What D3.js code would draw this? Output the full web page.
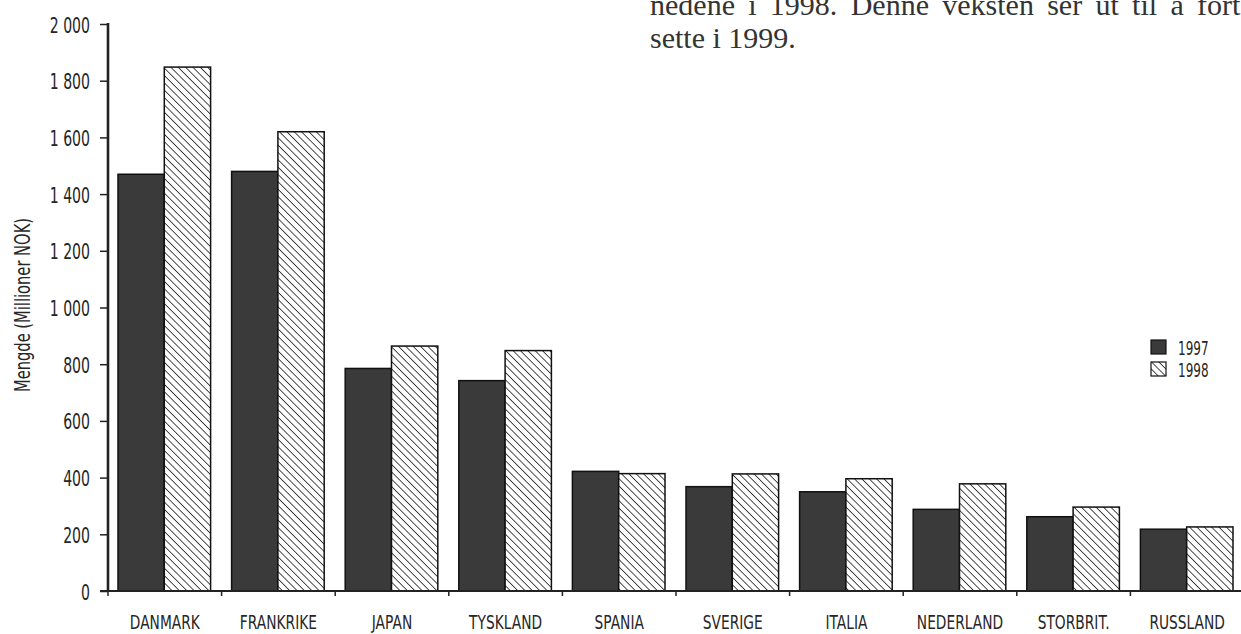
<!DOCTYPE html>
<html><head><meta charset="utf-8">
<script src="https://cdn.jsdelivr.net/npm/d3@7"></script>
<style>body{margin:0;background:#fff}svg{display:block}</style>
</head><body>
<svg id="c" width="1241" height="634"></svg>
<script>
const categories = ["DANMARK","FRANKRIKE","JAPAN","TYSKLAND","SPANIA","SVERIGE","ITALIA","NEDERLAND","STORBRIT.","RUSSLAND"];
const values1997 = [1470,1480,785,742,422,368,350,288,262,218];
const values1998 = [1848,1620,864,848,414,413,396,378,296,226];
const seriesNames = ["1997","1998"];
const yTicks = [0,200,400,600,800,1000,1200,1400,1600,1800,2000];
const yTitle = "Mengde (Millioner NOK)";
const proseLines = ["nedene i 1998. Denne veksten ser ut til å fort-","sette i 1999."];

const svg = d3.select("#c");
const font = "'DejaVu Sans',sans-serif";
const ink = "#262626";
const defs = svg.append("defs");
const hs = 5.2;
const pat = defs.append("pattern").attr("id","hatch").attr("patternUnits","userSpaceOnUse")
  .attr("width",hs).attr("height",hs).attr("patternTransform","rotate(-45)");
pat.append("rect").attr("width",hs).attr("height",hs).attr("fill","#fff");
pat.append("line").attr("x1",0).attr("y1",0).attr("x2",0).attr("y2",hs).attr("stroke","#111").attr("stroke-width",1.5);

const x = d3.scaleBand().domain(categories).range([108,1244]).paddingInner(0).paddingOuter(0);
const xs = d3.scaleBand().domain(seriesNames).range([10, x.bandwidth()-11]).padding(0);
const y = d3.scaleLinear().domain([0,2000]).range([591,24]);

// condensed text helper
function ctext(parent, tx, ty, str, size, sx, anchor, rot){
  return parent.append("text")
    .attr("transform", `translate(${tx},${ty})${rot?` rotate(${rot})`:""} scale(${sx},1)`)
    .attr("font-family", font).attr("font-size", size).attr("fill", ink)
    .attr("text-anchor", anchor||"start").text(str);
}

const data = categories.map((c,i)=>({c, v:[values1997[i], values1998[i]]}));
const g = svg.append("g");
data.forEach(d=>{
  seriesNames.forEach((s,j)=>{
    g.append("rect")
      .attr("x", x(d.c)+xs(s)).attr("width", xs.bandwidth())
      .attr("y", y(d.v[j])).attr("height", y(0)-y(d.v[j]))
      .attr("fill", j===0 ? "#3a3a3a" : "url(#hatch)")
      .attr("stroke","#111").attr("stroke-width",1.5);
  });
});

// y axis
const ya = svg.append("g").attr("transform","translate(108,0)")
  .call(d3.axisLeft(y).tickValues(yTicks).tickSize(8).tickFormat(""));
ya.select(".domain").attr("stroke","#222").attr("stroke-width",2.6).attr("d","M0,23V592");
ya.selectAll(".tick line").attr("stroke","#222").attr("stroke-width",1.5);
ya.selectAll(".tick").each(function(d){
  ctext(d3.select(this), -18, 8, d3.format(",")(d).replace(/,/g," "), 22, 0.64, "end");
});

// x axis
const xa = svg.append("g").attr("transform","translate(0,591)");
xa.append("line").attr("x1",100).attr("x2",1241).attr("y1",0).attr("y2",0).attr("stroke","#222").attr("stroke-width",2);
xa.selectAll("line.t").data(categories).join("line").attr("class","t")
  .attr("x1",d=>x(d)).attr("x2",d=>x(d)).attr("y1",0).attr("y2",5).attr("stroke","#222").attr("stroke-width",1.5);
categories.forEach(c=>{
  ctext(xa, x(c)+x.bandwidth()/2, 38, c, 20, 0.69, "middle");
});

// y title
ctext(svg, 30, 305, yTitle, 21, 0.7, "middle", -90);

// legend
const lg = svg.append("g").attr("transform","translate(1151,340)");
seriesNames.forEach((s,j)=>{
  lg.append("rect").attr("x",0).attr("y",j*22).attr("width",15).attr("height",14)
    .attr("fill", j===0 ? "#3a3a3a" : "url(#hatch)").attr("stroke","#111").attr("stroke-width",1.2);
  ctext(lg, 27, j*22+15, s, 20, 0.6, "start");
});

// prose (first line justified and running off the top/right edge as in the reference)
const serif = "'Liberation Serif','Times New Roman',serif";
const proseY = [15, 48];
proseLines.forEach((t,i)=>{
  const el = svg.append("text")
    .attr("x",650).attr("y",proseY[i])
    .attr("font-family",serif).attr("font-size",30).attr("fill","#333").text(t);
  if(i===0){
    const words = t.split(" ");
    const prefix = words.slice(0,-1).join(" ") + " ";
    const tmp = svg.append("text").attr("font-family",serif).attr("font-size",30).attr("xml:space","preserve").text(prefix);
    const w = tmp.node().getComputedTextLength();
    tmp.remove();
    const spaces = words.length-1;
    el.attr("word-spacing", Math.max(0,((1197-650)-w)/spaces));
  }
});
</script>
</body></html>
